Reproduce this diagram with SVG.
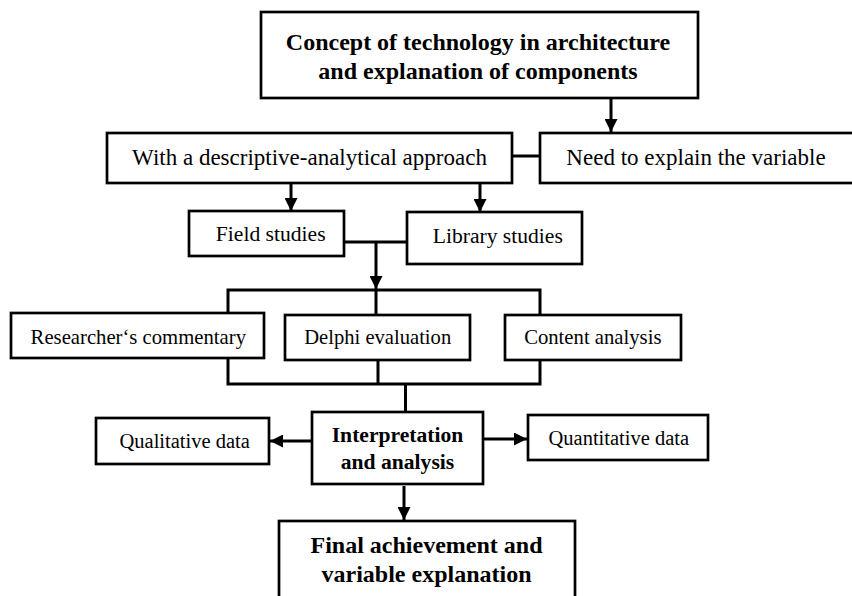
<svg xmlns="http://www.w3.org/2000/svg" width="852" height="596" viewBox="0 0 852 596">
<style>
  .box { fill: #fff; stroke: #000; stroke-width: 2.7; }
  .t { font-family: "Liberation Serif", "Times New Roman", serif; fill: #000; text-anchor: middle; }
  .b { font-weight: bold; }
  .ln { fill: none; stroke: #000; stroke-width: 3; }
  .arr { fill: none; stroke: #000; stroke-width: 3; marker-end: url(#ah); }
</style>
<defs>
  <marker id="ah" markerUnits="userSpaceOnUse" markerWidth="13" markerHeight="13" refX="13" refY="6.5" orient="auto">
    <path d="M0,0 L13,6.5 L0,13 z" fill="#000"/>
  </marker>
</defs>
<rect width="852" height="596" fill="#fff"/>

<g id="connectors">
  <path class="arr" d="M611,98 V132"/>
  <path class="ln" d="M512,156 H540"/>
  <path class="arr" d="M291,183 V211"/>
  <path class="arr" d="M480,183 V212"/>
  <path class="ln" d="M344,242 H407"/>
  <path class="arr" d="M376,242 V289"/>
  <path class="ln" d="M228,313 V290 H540 V315"/>
  <path class="ln" d="M376,290 V315"/>
  <path class="ln" d="M228,358 V384 M378,360 V384 M540,360 V384 M226.5,384 H541.5"/>
  <path class="ln" d="M405.5,384 V412"/>
  <path class="arr" d="M312,441 H270"/>
  <path class="arr" d="M483,439 H527"/>
  <path class="arr" d="M404,486 V520"/>
</g>

<g id="concept">
  <rect class="box" x="261" y="12" width="437" height="86"/>
  <text class="t b" x="478" y="50" font-size="24">Concept of technology in architecture</text>
  <text class="t b" x="478" y="79" font-size="24">and explanation of components</text>
</g>
<g id="descriptive">
  <rect class="box" x="107" y="133" width="405" height="50"/>
  <text class="t" x="309.5" y="165" font-size="23">With a descriptive-analytical approach</text>
</g>
<g id="need">
  <rect class="box" x="540" y="133" width="320" height="50"/>
  <text class="t" x="696" y="165" font-size="23">Need to explain the variable</text>
</g>
<g id="field">
  <rect class="box" x="189" y="211" width="155" height="45"/>
  <text class="t" x="270.7" y="241" font-size="21.6">Field studies</text>
</g>
<g id="library">
  <rect class="box" x="407" y="212" width="175" height="52"/>
  <text class="t" x="497.8" y="243.3" font-size="21.6">Library studies</text>
</g>
<g id="researcher">
  <rect class="box" x="11" y="313" width="253" height="45"/>
  <text class="t" x="138.3" y="343.5" font-size="20.7">Researcher‘s commentary</text>
</g>
<g id="delphi">
  <rect class="box" x="285" y="315" width="185" height="45"/>
  <text class="t" x="377.7" y="344" font-size="20.6">Delphi evaluation</text>
</g>
<g id="content">
  <rect class="box" x="505" y="315" width="176" height="45"/>
  <text class="t" x="592.8" y="344" font-size="20.7">Content analysis</text>
</g>
<g id="interpretation">
  <rect class="box" x="312" y="412" width="171" height="72"/>
  <text class="t b" x="397.5" y="442.3" font-size="21.6">Interpretation</text>
  <text class="t b" x="397.5" y="469" font-size="21.6">and analysis</text>
</g>
<g id="qualitative">
  <rect class="box" x="96" y="418" width="173" height="46"/>
  <text class="t" x="184.7" y="447.7" font-size="20.5">Qualitative data</text>
</g>
<g id="quantitative">
  <rect class="box" x="528" y="415" width="180" height="45"/>
  <text class="t" x="618.8" y="445" font-size="20.5">Quantitative data</text>
</g>
<g id="final">
  <rect class="box" x="279" y="521" width="296" height="90"/>
  <text class="t b" x="426.5" y="552.7" font-size="24">Final achievement and</text>
  <text class="t b" x="426.5" y="581.7" font-size="24">variable explanation</text>
</g>
</svg>
